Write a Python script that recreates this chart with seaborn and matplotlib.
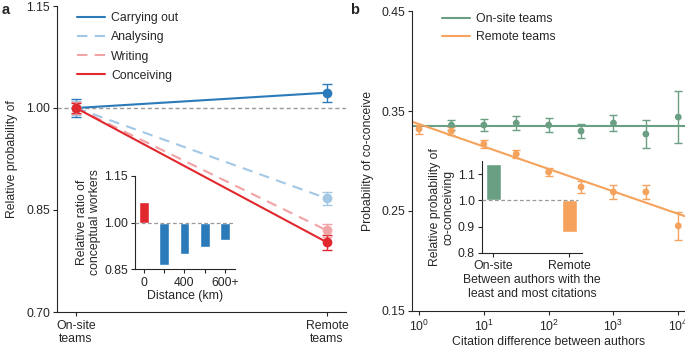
import numpy as np
import pandas as pd
import matplotlib
matplotlib.use("Agg")
import matplotlib.pyplot as plt
import seaborn as sns

sns.set_style("ticks")
FS = 8.8
plt.rcParams['font.family'] = ['Liberation Sans', 'DejaVu Sans']
plt.rcParams['font.size'] = FS
plt.rcParams['axes.linewidth'] = 0.8
plt.rcParams['xtick.major.width'] = 0.8
plt.rcParams['ytick.major.width'] = 0.8
plt.rcParams['xtick.major.size'] = 3
plt.rcParams['ytick.major.size'] = 3
plt.rcParams['xtick.major.pad'] = 2.5
plt.rcParams['ytick.major.pad'] = 2
plt.rcParams['xtick.labelsize'] = FS
plt.rcParams['ytick.labelsize'] = FS

# ---------------- Data: panel a ----------------
team_labels = ["On-site\nteams", "Remote\nteams"]
tasks = ["Carrying out", "Analysing", "Writing", "Conceiving"]
carrying_out = [1.000, 1.0225]
analysing = [1.000, 0.867]
writing = [1.000, 0.820]
conceiving = [1.000, 0.8025]
carrying_out_err = [0.013, 0.013]
analysing_err = [0.010, 0.009]
writing_err = [0.009, 0.009]
conceiving_err = [0.008, 0.011]

distance_labels = ["0", "", "400", "", "600+"]
distance_ratio = [1.065, 0.865, 0.900, 0.923, 0.945]

# ---------------- Data: panel b ----------------
citation_diff_onsite = [10**0.5, 10**1, 10**1.5, 10**2, 10**2.5, 10**3, 10**3.5, 10**4]
onsite_prob = [0.336, 0.336, 0.338, 0.336, 0.330, 0.338, 0.327, 0.344]
onsite_err = [0.005, 0.006, 0.007, 0.007, 0.007, 0.008, 0.014, 0.026]
citation_diff_remote = [10**0, 10**0.5, 10**1, 10**1.5, 10**2, 10**2.5, 10**3, 10**3.5, 10**4]
remote_prob = [0.332, 0.330, 0.317, 0.307, 0.289, 0.274, 0.269, 0.269, 0.235]
remote_err = [0.0045, 0.004, 0.004, 0.004, 0.004, 0.006, 0.007, 0.007, 0.014]
onsite_fit_level = 0.335
remote_fit_intercept = 0.337
remote_fit_slope = -0.0225  # per decade

inset_b_labels = ["On-site", "Remote"]
inset_b_values = [1.138, 0.878]

# ---------------- Colours ----------------
c_blue = "#2b7bba"
c_lblue = "#a3c8e6"
c_lred = "#f2a3a6"
c_red = "#e0282e"
c_green = "#6a9f84"
c_orange = "#f5a25d"

W, H = 685, 347
fig = plt.figure(figsize=(W / 100, H / 100), dpi=100)

def fx(px):
    return px / W

def fy(py):
    return 1 - py / H

# ---------------- Panel a ----------------
axa = fig.add_axes([fx(57), fy(312), fx(346 - 57), fy(6) - fy(312)])
pos = [0, 1]
series = [
    ("Carrying out", carrying_out, carrying_out_err, c_blue, "-"),
    ("Analysing", analysing, analysing_err, c_lblue, (0, (5, 3.5))),
    ("Writing", writing, writing_err, c_lred, (0, (5, 3.5))),
    ("Conceiving", conceiving, conceiving_err, c_red, "-"),
]
axa.axhline(1.0, color="#999999", ls=(0, (3, 2)), lw=1.0, zorder=1)
for name, vals, errs, col, ls in series:
    df = pd.DataFrame({"pos": pos, "value": vals})
    sns.lineplot(data=df, x="pos", y="value", ax=axa, color=col, lw=1.5,
                 linestyle=ls, label=name, zorder=2)
for name, vals, errs, col, ls in series:
    axa.errorbar(pos, vals, yerr=errs, fmt="o", color=col, ms=6,
                 capsize=3.5, elinewidth=1.0, capthick=1.0, zorder=3,
                 label="_nolegend_")
axa.set_xlim(-0.076, 1.076)
axa.set_ylim(0.70, 1.15)
axa.set_yticks([0.70, 0.85, 1.00, 1.15])
axa.set_yticklabels(["0.70", "0.85", "1.00", "1.15"])
axa.set_xticks(pos)
axa.set_xticklabels(team_labels)
axa.set_xlabel("")
axa.set_ylabel("Relative probability of", fontsize=FS, labelpad=6)
axa.legend(loc="upper left", frameon=False, fontsize=FS,
           handlelength=2.3, handletextpad=0.5, labelspacing=0.58,
           bbox_to_anchor=(0.03, 1.015))
sns.despine(ax=axa)

# inset a
ina = fig.add_axes([fx(135), fy(269.3), fx(100), fy(175.7) - fy(269.3)])
dist_pos = np.arange(len(distance_ratio))
bar_cols = [c_red] + [c_blue] * 4
for p, v, c in zip(dist_pos, distance_ratio, bar_cols):
    ina.bar(p, v - 1.0, bottom=1.0, width=0.48, color=c, zorder=2)
ina.axhline(1.0, color="#999999", ls=(0, (3, 2)), lw=0.9, zorder=3)
ina.set_xlim(-0.44, 4.49)
ina.set_ylim(0.85, 1.15)
ina.set_yticks([0.85, 1.00, 1.15])
ina.set_yticklabels(["0.85", "1.00", "1.15"])
ina.set_xticks(dist_pos)
ina.set_xticklabels(distance_labels)
ina.set_xlabel("Distance (km)", fontsize=FS, labelpad=1)
ina.set_ylabel("Relative ratio of\nconceptual workers", fontsize=FS, labelpad=2)
ina.patch.set_alpha(0)
sns.despine(ax=ina)

# ---------------- Panel b ----------------
axb = fig.add_axes([fx(411.7), fy(310.7), fx(685) - fx(411.7), fy(11.3) - fy(310.7)])
xmin, xmax = 10**(-0.113), 10**4.104
xfit = np.array([xmin, xmax])
axb.plot(xfit, [onsite_fit_level] * 2, color=c_green, lw=1.5, label="On-site teams", zorder=2)
axb.plot(xfit, remote_fit_intercept + remote_fit_slope * np.log10(xfit),
         color=c_orange, lw=1.5, label="Remote teams", zorder=2)
axb.errorbar(citation_diff_onsite, onsite_prob, yerr=onsite_err, fmt="none",
             ecolor=c_green, elinewidth=1.0, capsize=3, capthick=1.0, zorder=3)
axb.errorbar(citation_diff_remote, remote_prob, yerr=remote_err, fmt="none",
             ecolor=c_orange, elinewidth=1.0, capsize=3, capthick=1.0, zorder=3)
sns.scatterplot(x=citation_diff_onsite, y=onsite_prob, ax=axb, color=c_green,
                s=24, edgecolor="none", zorder=4, legend=False)
sns.scatterplot(x=citation_diff_remote, y=remote_prob, ax=axb, color=c_orange,
                s=24, edgecolor="none", zorder=4, legend=False)
axb.set_xscale("log")
axb.set_xlim(xmin, xmax)
axb.set_ylim(0.15, 0.45)
axb.set_yticks([0.15, 0.25, 0.35, 0.45])
axb.set_yticklabels(["0.15", "0.25", "0.35", "0.45"])
axb.set_xticks([1, 10, 100, 1000, 10000])
axb.minorticks_off()
axb.set_xlabel("Citation difference between authors", fontsize=FS, labelpad=2)
axb.set_ylabel("Probability of co-conceive", fontsize=FS, labelpad=5)
axb.legend(loc="upper left", frameon=False, fontsize=FS, handlelength=2.3,
           handletextpad=0.5, labelspacing=0.45, bbox_to_anchor=(0.07, 1.03))
sns.despine(ax=axb)

# inset b
inb = fig.add_axes([fx(481.7), fy(252.7), fx(582) - fx(481.7), fy(161.3) - fy(252.7)])
for i, (lab, v, c) in enumerate(zip(inset_b_labels, inset_b_values, [c_green, c_orange])):
    inb.bar(i, v - 1.0, bottom=1.0, width=0.2, color=c, zorder=2)
inb.plot([-0.153, 1.12], [1.0, 1.0], color="#999999", ls=(0, (3, 2)), lw=0.9, zorder=3)
inb.set_xlim(-0.153, 1.17)
inb.set_ylim(0.8, 1.15)
inb.set_yticks([0.8, 0.9, 1.0, 1.1])
inb.set_yticklabels(["0.8", "0.9", "1.0", "1.1"])
inb.set_xticks([0, 1])
inb.set_xticklabels(inset_b_labels)
inb.set_xlabel("Between authors with the\nleast and most citations", fontsize=FS, labelpad=1)
inb.set_ylabel("Relative probability of\nco-conceiving", fontsize=FS, labelpad=2)
inb.patch.set_alpha(0)
sns.despine(ax=inb)

fig.text(fx(2), fy(3), "a", fontsize=10.5, fontweight="bold", va="top", ha="left")
fig.text(fx(350), fy(3), "b", fontsize=10.5, fontweight="bold", va="top", ha="left")

fig.savefig("out.png", dpi=100)
